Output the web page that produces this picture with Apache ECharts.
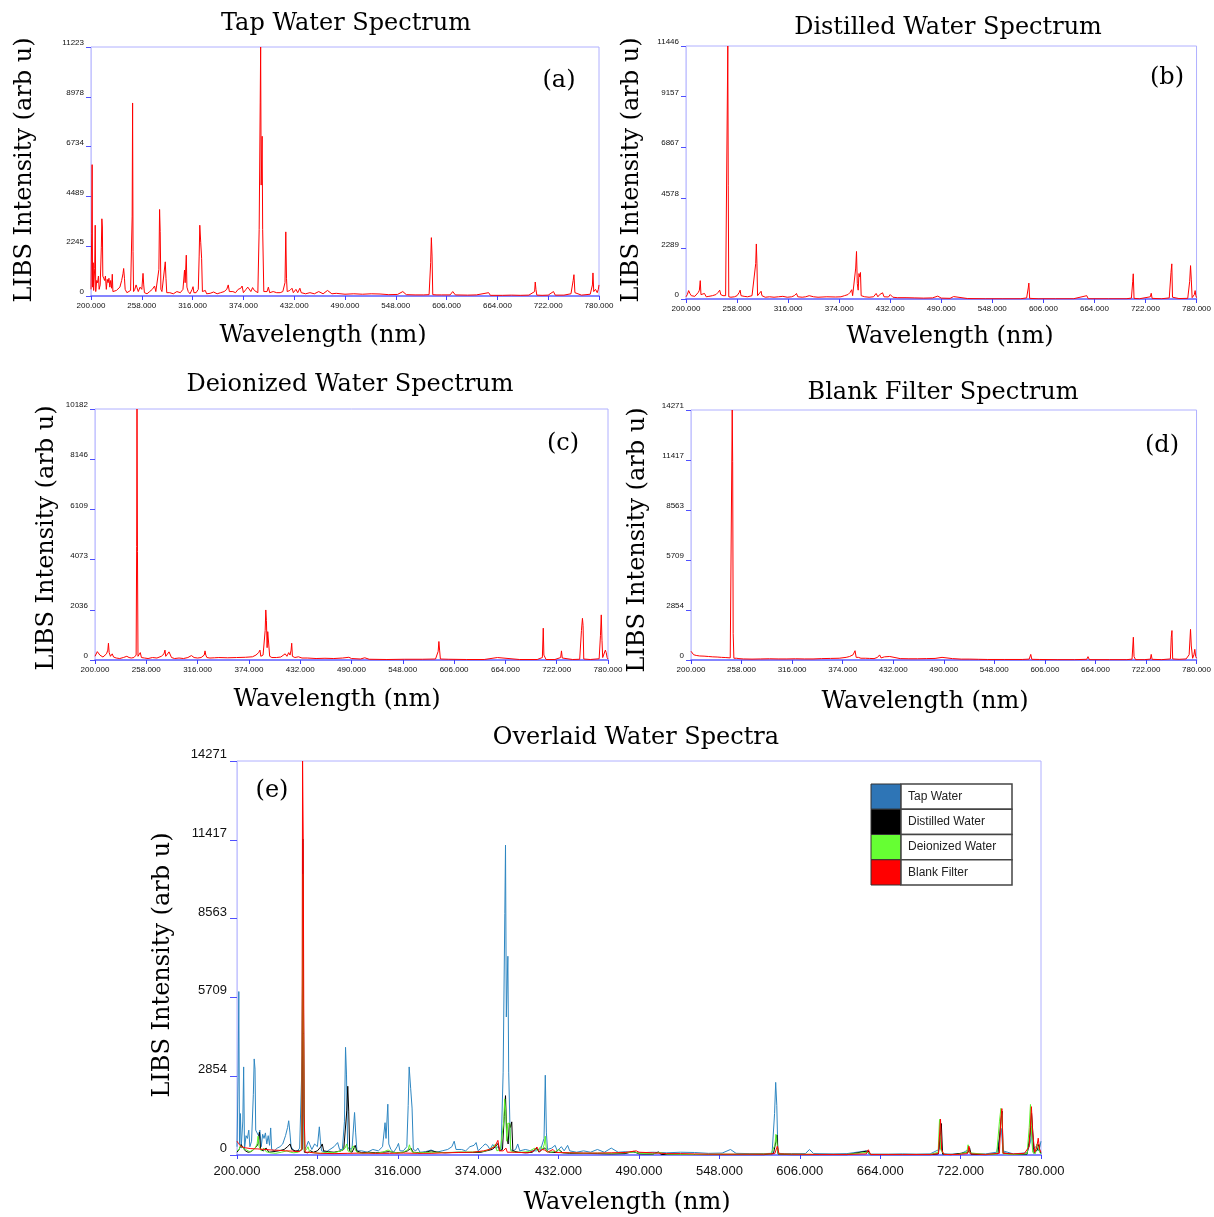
<!DOCTYPE html>
<html>
<head>
<meta charset="utf-8">
<title>Water Spectra</title>
<script src="https://cdn.jsdelivr.net/npm/echarts@6/dist/echarts.min.js"></script>
<style>
	* { margin: 0; padding: 0; border: 0; }
	html, body { width: 100%; height: 100%; background: #fff; }
	#main { width: 1214px; height: 1217px; }
</style>
</head>
<body>
<div id="main"></div>
<script type="text/javascript">
// wavelength axis (nm)
var xTicks = [200, 258, 316, 374, 432, 490, 548, 606, 664, 722, 780];

// y tick labels for each panel
var yTicksA = [0, 2245, 4489, 6734, 8978, 11223];
var yTicksB = [0, 2289, 4578, 6867, 9157, 11446];
var yTicksC = [0, 2036, 4073, 6109, 8146, 10182];
var yTicksD = [0, 2854, 5709, 8563, 11417, 14271];
var yTicksE = [0, 2854, 5709, 8563, 11417, 14271];

var seriesNames = ['Tap Water', 'Distilled Water', 'Deionized Water', 'Blank Filter'];
var seriesColors = ['#2e86c1', '#000000', '#5cf22e', '#ff0000'];
var swatchColors = ['#2e75b6', '#000000', '#66ff33', '#ff0000'];

// [wavelength, intensity]
var tapWater = [
	[200,300],[200.8,2800],[201.3,5920],[201.8,400],[202.5,1500],[203,250],[204.2,1230],[204.8,3190],[205.4,200],
	[206.5,700],[207.5,600],[208.5,900],[209.3,300],[210.5,500],[211.8,2200],[212.4,3480],[213,3110],[213.5,900],
	[214.5,800],[215.5,700],[216.5,900],[217.5,300],[218.5,750],[219.5,600],[220.5,800],[221.5,400],[222.5,700],
	[223.5,350],[224.3,980],[225,200],[227,150],[229,250],[231,300],[233,400],[235,700],[236.5,1000],[237.3,1240],
	[238.2,800],[239,300],[241,150],[243,100],[245.2,250],[247,3600],[247.5,8700],[248,2000],[248.6,200],[250,300],
	[251.5,500],[252.5,380],[254,200],[256,400],[258,300],[259.4,1020],[260.2,500],[261,150],[264,100],[267,200],
	[270,300],[272.6,450],[274,200],[276,200],[277.5,1200],[278.3,3900],[279,2900],[279.8,300],[281,200],[283,250],
	[284.8,1540],[285.6,800],[286.5,150],[290,150],[294,100],[298,200],[302,150],[305,300],[306.8,1170],[307.5,600],
	[308.8,1840],[309.5,400],[311,200],[313,100],[315.5,300],[316.5,420],[317.5,150],[320,150],[322.5,300],
	[323.5,1800],[324.2,3190],[325.3,2400],[326.3,1700],[327.2,200],[329,150],[330.5,250],[332,100],[336,120],
	[340,180],[344,100],[348,150],[352,200],[355,300],[356.7,500],[358,200],[362,200],[365,150],[368,300],[371,350],
	[372.5,450],[374,150],[377,300],[379,400],[380.7,350],[382.5,200],[384.5,380],[386.5,250],[388.5,300],[390.5,150],
	[392,3000],[393.2,8740],[393.7,11223],[394.3,5000],[395.4,7200],[396,3000],[396.6,2960],[397.3,200],[399,150],
	[401,200],[402.5,400],[404,150],[408,200],[412,150],[416,150],[419,200],[421.5,600],[422.4,2890],[423.2,800],
	[424,200],[427,250],[429.5,350],[431,150],[434,300],[436,150],[438.5,350],[440,150],[445,100],[450,150],[455,100],
	[460,200],[465,100],[470,250],[475,100],[480,120],[490,80],[500,100],[510,80],[520,100],[530,90],[540,60],
	[550,70],[556,200],[560,60],[570,50],[580,50],[586,60],[587.8,1500],[588.6,2630],[589.4,1800],[590.2,60],
	[595,50],[600,50],[610,50],[613,200],[616,50],[630,40],[640,50],[654,150],[656,30],[670,30],[680,40],[690,30],
	[700,40],[706.5,200],[707.2,630],[708,300],[709,40],[715,30],[722,40],[728,200],[730,40],[740,40],[748,100],
	[750.5,700],[751.4,960],[752.5,150],[760,40],[770,80],[772.5,500],[773.1,1040],[774,200],[776,300],[778,150],
	[779.2,300],[780,500]
];

var distilledWater = [
	[200,100],[201.5,200],[203,380],[204.5,250],[206,150],[208,100],[210,120],[212,200],[214,300],[215.2,400],
	[216.2,830],[217,200],[219,150],[221,250],[223,100],[226,120],[230,150],[234,200],[236.5,300],[238.3,400],
	[239.5,200],[242,150],[245,150],[247,200],[247.5,11446],[248,5150],[248.6,100],[251,80],[253,150],[255,100],
	[258,150],[260.5,300],[261.5,400],[262.5,150],[266,120],[270,100],[275,150],[277,200],[279.2,1600],[279.9,2490],
	[280.6,1590],[281.3,150],[283,100],[285.3,350],[286.3,150],[290,80],[295,100],[300,80],[305,100],[310,120],
	[315,80],[320,100],[323,150],[325.5,250],[327,100],[332,80],[336,100],[340,150],[345,100],[350,80],[360,100],
	[370,90],[376,100],[380,150],[384,200],[386.5,300],[388.3,420],[389.3,150],[391.5,200],[392.8,1400],[393.7,2150],
	[394.6,700],[395.6,400],[396.5,1150],[397.3,1000],[398.2,1200],[399,150],[403,100],[408,80],[413,100],[416,250],
	[418,100],[420,200],[422,250],[423.3,280],[425,100],[430,90],[432,200],[435,80],[440,60],[450,60],[460,50],
	[470,40],[480,50],[486,130],[490,40],[500,30],[504,110],[506,20],[520,20],[540,10],[560,10],[580,10],[587,50],
	[588.8,500],[589.5,720],[590.4,30],[600,10],[620,10],[640,10],[655.3,150],[657,10],[680,10],[700,10],[706,40],
	[707.5,800],[708.1,1140],[709,30],[715,10],[727.5,100],[728.5,260],[729.5,30],[740,10],[749,50],[751,1200],
	[751.9,1590],[752.7,80],[760,20],[770,30],[772.2,800],[773.2,1510],[774,900],[775,60],[777.5,200],[778.4,380],
	[779.2,150],[780,60]
];

var deionizedWater = [
	[200,150],[201.5,200],[202.6,340],[204,300],[205.5,200],[207,180],[209,120],[211,150],[213,250],[214.5,400],
	[215.2,680],[216,300],[217.5,150],[219.5,250],[221,120],[224,80],[228,60],[232,100],[236,150],[238.5,100],
	[241,80],[244,100],[246.5,200],[247.1,4600],[247.5,10182],[248,4400],[248.6,150],[250.2,200],[251.2,300],
	[252.5,100],[256,80],[260,60],[265,100],[270,80],[275,150],[278,250],[279.1,400],[280,150],[282,100],[283.7,330],
	[284.7,250],[285.5,300],[286.5,100],[290,60],[295,80],[300,60],[305,100],[309,180],[312,100],[316,80],[320,100],
	[323.5,200],[324.4,370],[325.3,200],[326.5,100],[330,80],[335,90],[340,100],[350,90],[360,100],[370,110],
	[378,130],[382,200],[385,300],[386.5,400],[387.5,150],[390,200],[392.4,1200],[393.1,2030],[393.8,1600],
	[394.6,500],[395.3,1150],[396.1,1100],[396.8,1150],[397.5,150],[400,100],[405,100],[410,120],[415,250],[417,150],
	[419,300],[420.5,200],[421.7,400],[422.4,680],[423.2,150],[426,100],[430,130],[432,200],[434,80],[440,80],
	[450,60],[460,70],[470,60],[480,80],[487,110],[490,60],[500,40],[505,90],[510,30],[530,20],[550,30],[570,30],
	[585,40],[588,350],[588.8,750],[589.6,400],[590.5,40],[600,30],[620,20],[640,20],[655,100],[657,20],[680,20],
	[700,20],[705.8,100],[706.8,1290],[707.5,200],[710,20],[720,20],[726.5,100],[727.4,370],[728.3,80],[740,20],
	[748,30],[750,1200],[751.1,1690],[751.8,1400],[752.6,40],[760,20],[770,50],[771.5,1000],[772.4,1830],[773.2,800],
	[774,100],[776,50],[777,400],[778,300],[779,100],[780,40]
];

var blankFilter = [
	[200,500],[201,420],[203,300],[206,260],[210,230],[215,220],[220,200],[225,180],[230,170],[235,150],[240,140],
	[245,120],[246.8,200],[247.3,14271],[247.8,11320],[248.4,1520],[249.2,100],[252,100],[255,80],[260,60],[270,50],
	[280,60],[290,70],[300,60],[310,60],[320,70],[330,60],[340,60],[350,80],[360,90],[370,100],[378,150],[382,200],
	[386,300],[388.2,530],[389.5,150],[392,150],[394,250],[395,100],[400,100],[405,90],[410,80],[414,150],[416.4,290],
	[418,120],[420,200],[422,180],[424,100],[428,200],[430,90],[440,80],[450,70],[460,70],[470,80],[480,90],
	[488,150],[490,100],[500,80],[510,50],[520,50],[530,40],[540,30],[560,30],[580,30],[588,50],[589.8,320],
	[591,40],[600,30],[620,20],[640,20],[654,40],[655.5,190],[657,20],[680,20],[700,20],[706,50],[707.5,1300],
	[708.3,200],[710,20],[720,20],[727,50],[728,320],[729,40],[740,20],[750,60],[751,1300],[751.8,1680],[752.6,60],
	[760,40],[768,60],[771.5,300],[773.1,1750],[774,800],[775.5,100],[777,300],[778,610],[779,200],[780,100]
];

var myChart = echarts.init(document.getElementById('main'));

var panels = [
	{ grid: { left: 91, top: 47, width: 508, height: 249 }, yTicks: yTicksA, font: 8,
	  title: 'Tap Water Spectrum', titlePos: [346, 24], xNamePos: [323, 336], yNamePos: [25, 170], tag: '(a)', tagPos: [559, 81] },
	{ grid: { left: 686, top: 46, width: 513, height: 253 }, yTicks: yTicksB, font: 8,
	  title: 'Distilled Water Spectrum', titlePos: [948, 28], xNamePos: [950, 337], yNamePos: [632, 170], tag: '(b)', tagPos: [1167, 78] },
	{ grid: { left: 95, top: 409, width: 513, height: 251 }, yTicks: yTicksC, font: 8,
	  title: 'Deionized Water Spectrum', titlePos: [350, 385], xNamePos: [337, 700], yNamePos: [47, 538], tag: '(c)', tagPos: [563, 444] },
	{ grid: { left: 691, top: 410, width: 508, height: 250 }, yTicks: yTicksD, font: 8,
	  title: 'Blank Filter Spectrum', titlePos: [943, 393], xNamePos: [925, 702], yNamePos: [638, 540], tag: '(d)', tagPos: [1162, 446] },
	{ grid: { left: 237, top: 761, width: 804, height: 394 }, yTicks: yTicksE, font: 13,
	  title: 'Overlaid Water Spectra', titlePos: [636, 738], xNamePos: [627, 1203], yNamePos: [163, 965], tag: '(e)', tagPos: [272, 791] }
];

var serif = '"DejaVu Serif", serif';
var grids = [], xAxes = [], yAxes = [], graphics = [];

panels.forEach(function (p, i) {
	var big = p.font > 10;
	grids.push({
		left: p.grid.left, top: p.grid.top, width: p.grid.width, height: p.grid.height,
		show: true, borderColor: '#b0b0ff', borderWidth: 1, backgroundColor: 'transparent'
	});
	xAxes.push({
		gridIndex: i, type: 'value', min: 200, max: 780, interval: 58,
		axisLine: { lineStyle: { color: '#6a6aff', width: 1.5 } },
		axisTick: { show: true, length: 4, lineStyle: { color: '#4040ff' } },
		axisLabel: { fontSize: p.font, color: '#111', fontFamily: 'Arial, "Liberation Sans", sans-serif', margin: big ? 10 : 6,
			formatter: function (v) { return v.toFixed(3); } },
		splitLine: { show: false }
	});
	var top = p.yTicks[p.yTicks.length - 1];
	var step = top / 5;
	yAxes.push({
		gridIndex: i, type: 'value', min: 0, max: top, interval: step,
		axisLine: { show: true, lineStyle: { color: '#c8c8ff' } },
		axisTick: { show: true, length: big ? 7 : 5, lineStyle: { color: '#5050ff' } },
		axisLabel: { fontSize: p.font, color: '#111', fontFamily: 'Arial, "Liberation Sans", sans-serif',
			margin: big ? 10 : 7, verticalAlign: 'bottom',
			formatter: (function (labels, s) { return function (v) { return String(labels[Math.round(v / s)]); }; })(p.yTicks, step) },
		splitLine: { show: false }
	});
	graphics.push({ type: 'text', x: p.titlePos[0], y: p.titlePos[1],
		style: { text: p.title, font: '24px ' + serif, fill: '#000', textAlign: 'center', textVerticalAlign: 'middle' } });
	graphics.push({ type: 'text', x: p.xNamePos[0], y: p.xNamePos[1],
		style: { text: 'Wavelength (nm)', font: '24px ' + serif, fill: '#000', textAlign: 'center', textVerticalAlign: 'middle' } });
	graphics.push({ type: 'text', x: p.yNamePos[0], y: p.yNamePos[1], rotation: Math.PI / 2,
		style: { text: 'LIBS Intensity (arb u)', font: '24px ' + serif, fill: '#000', textAlign: 'center', textVerticalAlign: 'middle' } });
	graphics.push({ type: 'text', x: p.tagPos[0], y: p.tagPos[1],
		style: { text: p.tag, font: '24px ' + serif, fill: '#000', textAlign: 'center', textVerticalAlign: 'middle' } });
});

// legend box in panel (e)
var lgX = 871, lgY = 784, rowH = 25.25, swW = 30, lgW = 141;
seriesNames.forEach(function (name, k) {
	graphics.push({ type: 'rect', shape: { x: lgX, y: lgY + k * rowH, width: swW, height: rowH },
		style: { fill: swatchColors[k], stroke: '#333', lineWidth: 1 } });
	graphics.push({ type: 'rect', shape: { x: lgX + swW, y: lgY + k * rowH, width: lgW - swW, height: rowH },
		style: { fill: '#fff', stroke: '#444', lineWidth: 1.5 } });
	graphics.push({ type: 'text', x: lgX + swW + 7, y: lgY + k * rowH + rowH / 2,
		style: { text: name, font: '12px Arial, "Liberation Sans", sans-serif', fill: '#222', textVerticalAlign: 'middle' } });
});

function lineSeries(name, data, idx, color) {
	return {
		name: name, type: 'line', xAxisIndex: idx, yAxisIndex: idx,
		data: data, showSymbol: false, symbol: 'none', smooth: false,
		lineStyle: { color: color, width: 1 }, itemStyle: { color: color },
		emphasis: { disabled: true }
	};
}

var spectra = [tapWater, distilledWater, deionizedWater, blankFilter];
var series = [];
for (var j = 0; j < 4; j++) {
	series.push(lineSeries(seriesNames[j], spectra[j], j, '#ff0000'));
}
for (var j = 0; j < 4; j++) {
	series.push(lineSeries(seriesNames[j], spectra[j], 4, seriesColors[j]));
}

var option = {
	animation: false,
	backgroundColor: '#fff',
	grid: grids,
	xAxis: xAxes,
	yAxis: yAxes,
	series: series,
	graphic: graphics
};

myChart.setOption(option);
</script>
</body>
</html>
